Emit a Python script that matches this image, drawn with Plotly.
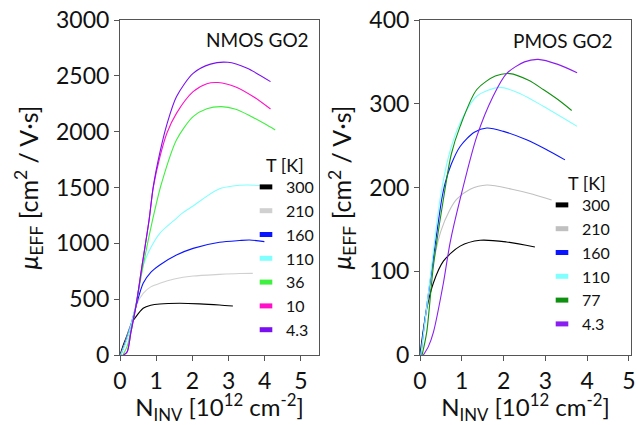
import plotly.graph_objects as go

# ---------------- data ----------------
temps_n = ["300", "210", "160", "110", "36", "10", "4.3"]
temps_p = ["300", "210", "160", "110", "77", "4.3"]

# NMOS GO2 (N_INV [1e12 cm^-2], mobility [cm^2/Vs])
n300_x = [0, 0.08, 0.18, 0.32, 0.41, 0.64, 0.85, 1.1, 1.65, 2.2, 2.75, 3.12]
n300_y = [0, 80, 164, 284, 329, 418, 445, 457, 463, 458, 448, 439]
n210_x = [0.02, 0.18, 0.32, 0.45, 0.64, 0.85, 1.1, 1.5, 2.02, 2.75, 3.3, 3.67]
n210_y = [0, 150, 300, 445, 552, 610, 642, 680, 707, 722, 730, 731]
n160_x = [0.02, 0.18, 0.32, 0.45, 0.64, 0.85, 1.1, 1.56, 2.02, 2.75, 3.3, 3.58, 3.99]
n160_y = [0, 140, 290, 445, 642, 740, 806, 895, 955, 1009, 1025, 1030, 1015]
n110_x = [0.02, 0.18, 0.32, 0.45, 0.64, 0.85, 1.1, 1.56, 1.74, 2.02, 2.39, 2.75, 3.12, 3.5, 3.86]
n110_y = [0, 130, 290, 470, 800, 960, 1090, 1224, 1275, 1335, 1420, 1488, 1513, 1522, 1518]
n36_x = [0.08, 0.2, 0.3, 0.44, 0.6, 0.8, 1.0, 1.15, 1.56, 2.02, 2.4, 2.8, 3.2, 3.6, 4.0, 4.29]
n36_y = [0, 80, 220, 445, 730, 1060, 1350, 1540, 1925, 2134, 2205, 2224, 2200, 2140, 2070, 2015]
n10_x = [0.1, 0.2, 0.3, 0.44, 0.6, 0.8, 0.92, 1.1, 1.3, 1.56, 2.02, 2.4, 2.71, 3.2, 3.7, 4.16]
n10_y = [0, 30, 200, 435, 780, 1200, 1500, 1770, 1990, 2164, 2358, 2430, 2440, 2400, 2310, 2203]
n4_x = [0.1, 0.2, 0.3, 0.44, 0.6, 0.8, 0.92, 1.1, 1.3, 1.56, 2.02, 2.5, 2.98, 3.5, 4.16]
n4_y = [0, 30, 200, 435, 780, 1200, 1510, 1810, 2070, 2313, 2522, 2605, 2621, 2570, 2448]

# PMOS GO2
p300_x = [0, 0.08, 0.16, 0.32, 0.56, 0.96, 1.44, 2.07, 2.75]
p300_y = [0, 30, 55, 86, 112, 130, 137, 135, 129]
p210_x = [0.02, 0.16, 0.32, 0.5, 0.7, 0.88, 1.2, 1.6, 2.2, 2.7, 3.15]
p210_y = [0, 55, 110, 148, 172, 186, 198, 203, 198, 192, 185]
p160_x = [0.02, 0.1, 0.24, 0.4, 0.52, 0.6, 0.75, 0.96, 1.3, 1.6, 2.0, 2.55, 3.0, 3.47]
p160_y = [0, 35, 87, 145, 186, 205, 228, 249, 266, 271, 267, 257, 246, 233]
p110_x = [0.02, 0.24, 0.48, 0.7, 0.96, 1.36, 1.91, 2.4, 2.95, 3.76]
p110_y = [0, 90, 186, 240, 277, 309, 319.5, 312, 297, 273]
p77_x = [0.05, 0.16, 0.32, 0.56, 0.75, 0.96, 1.36, 1.8, 2.15, 2.6, 2.95, 3.3, 3.63]
p77_y = [0, 27, 106, 186, 240, 273, 317, 333, 336, 328, 317, 305, 292]
p4_x = [0.08, 0.2, 0.32, 0.56, 0.72, 0.96, 1.36, 1.75, 2.07, 2.5, 2.83, 3.3, 3.76]
p4_y = [0, 10, 27, 86, 134, 186, 261, 309, 336, 350, 353, 347, 337]

n_series = [(n300_x, n300_y), (n210_x, n210_y), (n160_x, n160_y), (n110_x, n110_y),
            (n36_x, n36_y), (n10_x, n10_y), (n4_x, n4_y)]
p_series = [(p300_x, p300_y), (p210_x, p210_y), (p160_x, p160_y), (p110_x, p110_y),
            (p77_x, p77_y), (p4_x, p4_y)]

n_colors = ["#000000", "#d0d0d0", "#0a14ff", "#80ffff", "#40f040", "#ff10c8", "#7a10f0"]
p_colors = ["#000000", "#c0c0c0", "#0a14ff", "#80ffff", "#109010", "#8a1ef0"]

FONT = "Lato"

fig = go.Figure()

for (xs, ys), c in zip(n_series, n_colors):
    fig.add_trace(go.Scatter(x=xs, y=ys, mode="lines", line=dict(color=c, width=1.1, shape="spline", smoothing=0.8),
                             xaxis="x", yaxis="y", showlegend=False, hoverinfo="skip"))
for (xs, ys), c in zip(p_series, p_colors):
    fig.add_trace(go.Scatter(x=xs, y=ys, mode="lines", line=dict(color=c, width=1.1, shape="spline", smoothing=0.8),
                             xaxis="x2", yaxis="y2", showlegend=False, hoverinfo="skip"))

# legend entries
for t, c in zip(temps_n, n_colors):
    fig.add_trace(go.Scatter(x=[None], y=[None], mode="markers", name=t,
                             marker=dict(symbol="line-ew", size=9, line=dict(width=5, color=c)),
                             xaxis="x", yaxis="y", legend="legend"))
for t, c in zip(temps_p, p_colors):
    fig.add_trace(go.Scatter(x=[None], y=[None], mode="markers", name=t,
                             marker=dict(symbol="line-ew", size=9, line=dict(width=5, color=c)),
                             xaxis="x2", yaxis="y2", legend="legend2"))

W, H = 639, 425
ydom = [70 / H, 405 / H]
axis_common = dict(showline=True, linecolor="#555555", linewidth=1, mirror=True,
                   ticks="outside", ticklen=5, tickcolor="#555555", tickwidth=1,
                   showgrid=False, zeroline=False, automargin=False,
                   tickfont=dict(family=FONT, size=23, color="#111111"))

xtitle = "N<sub>INV</sub> [10<sup>12</sup> cm<sup>-2</sup>]"
ytitle = "<i>μ</i><sub>EFF</sub> [cm<sup>2</sup> / V·s]"

fig.update_layout(
    template="none",
    width=W, height=H,
    margin=dict(l=0, r=0, t=0, b=0, autoexpand=False),
    paper_bgcolor="white", plot_bgcolor="white",
    font=dict(family=FONT, color="#111111"),
    xaxis=dict(domain=[120 / W, 319 / W], range=[0, 5.5], dtick=1, anchor="y",
               title=dict(text=xtitle, font=dict(family=FONT, size=24), standoff=15), **axis_common),
    yaxis=dict(domain=ydom, range=[0, 3000], dtick=500, anchor="x",
               title=dict(text=ytitle, font=dict(family=FONT, size=25), standoff=10), **axis_common),
    xaxis2=dict(domain=[420 / W, 631 / W], range=[0, 5.05], dtick=1, anchor="y2",
                title=dict(text=xtitle, font=dict(family=FONT, size=24), standoff=15), **axis_common),
    yaxis2=dict(domain=ydom, range=[0, 400], dtick=100, anchor="x2",
                title=dict(text=ytitle, font=dict(family=FONT, size=25), standoff=10), **axis_common),
    legend=dict(x=246 / W, y=1 - 170 / H, xanchor="left", yanchor="top",
                font=dict(family=FONT, size=16), bgcolor="rgba(0,0,0,0)",
                itemwidth=30, tracegroupgap=0),
    legend2=dict(x=542 / W, y=1 - 188 / H, xanchor="left", yanchor="top",
                 font=dict(family=FONT, size=16), bgcolor="rgba(0,0,0,0)",
                 itemwidth=30, tracegroupgap=0),
    annotations=[
        dict(text="NMOS GO2", x=311 / W, y=1 - 39 / H, xref="paper", yref="paper",
             xanchor="right", yanchor="middle", align="right", showarrow=False,
             font=dict(family=FONT, size=19)),
        dict(text="PMOS GO2", x=615 / W, y=1 - 41 / H, xref="paper", yref="paper",
             xanchor="right", yanchor="middle", align="right", showarrow=False,
             font=dict(family=FONT, size=19)),
        dict(text="T [K]", x=264 / W, y=1 - 165 / H, xref="paper", yref="paper",
             xanchor="left", yanchor="middle", showarrow=False, font=dict(family=FONT, size=18)),
        dict(text="T [K]", x=566 / W, y=1 - 183 / H, xref="paper", yref="paper",
             xanchor="left", yanchor="middle", showarrow=False, font=dict(family=FONT, size=18)),
    ],
)

fig.write_html("out.html", config={"displayModeBar": False},
               post_script="document.body.style.margin='0';document.body.style.overflow='hidden';")
